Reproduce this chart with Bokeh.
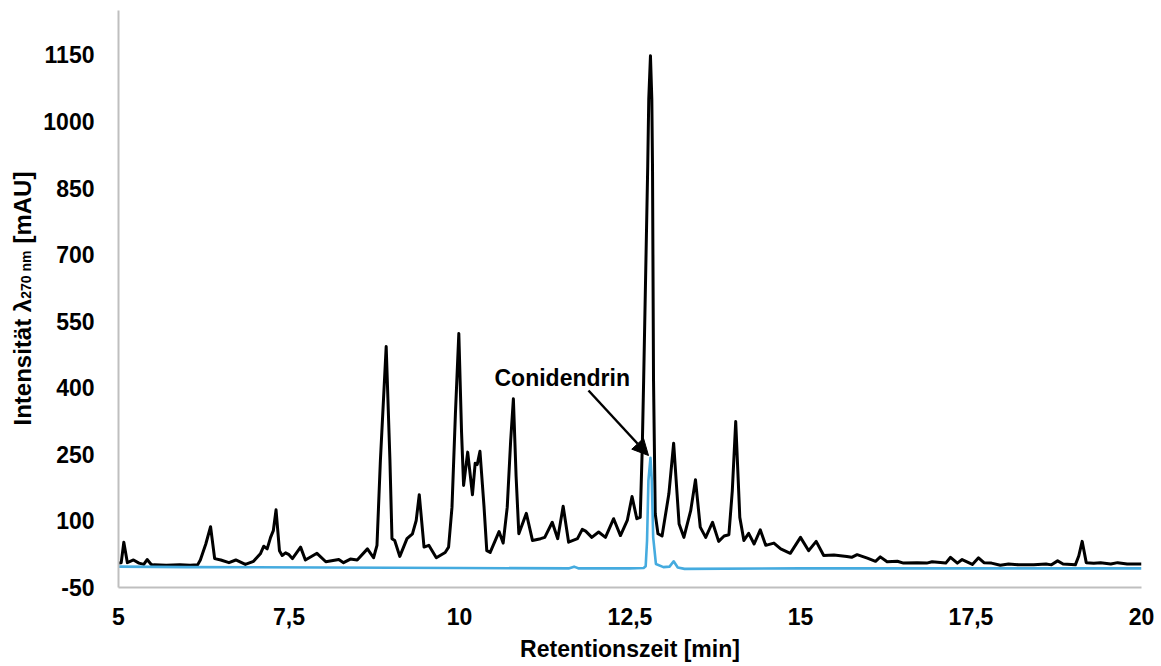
import math
from bokeh.plotting import figure
from bokeh.layouts import row
from bokeh.models import FixedTicker, Label, Arrow, NormalHead, Range1d
from bokeh.embed import file_html
from bokeh.resources import INLINE

# ---------------- data ----------------
black_t = [5.00, 5.04, 5.078, 5.13, 5.22, 5.30, 5.37, 5.42, 5.48, 5.52, 5.70, 5.90, 6.05, 6.16,
           6.20, 6.28, 6.35, 6.41, 6.50, 6.62, 6.72, 6.86, 6.98, 7.08, 7.13, 7.18, 7.23, 7.27,
           7.31, 7.36, 7.40, 7.45, 7.50, 7.55, 7.67, 7.74, 7.91, 8.04, 8.23, 8.30, 8.40, 8.50,
           8.65, 8.74, 8.79, 8.84, 8.925, 8.98, 9.01, 9.05, 9.125, 9.23, 9.31, 9.365, 9.41,
           9.48, 9.55, 9.66, 9.79, 9.84, 9.89, 9.94, 9.99, 10.03, 10.06, 10.12, 10.19, 10.23,
           10.26, 10.30, 10.36, 10.40, 10.45, 10.58, 10.64, 10.70, 10.75, 10.79, 10.83, 10.87,
           10.98, 11.07, 11.19, 11.25, 11.36, 11.44, 11.52, 11.60, 11.73, 11.80, 11.85, 11.94,
           12.04, 12.14, 12.26, 12.36, 12.46, 12.53, 12.60, 12.65, 12.68, 12.70, 12.76, 12.775,
           12.80, 12.82, 12.83, 12.845, 12.87, 12.91, 12.97, 13.07, 13.14, 13.22, 13.29, 13.39,
           13.46, 13.53, 13.61, 13.71, 13.80, 13.88, 13.95, 14.00, 14.05, 14.11, 14.17, 14.24,
           14.32, 14.41, 14.49, 14.61, 14.71, 14.85, 15.00, 15.12, 15.23, 15.34, 15.49, 15.68,
           15.75, 15.83, 15.98, 16.10, 16.17, 16.27, 16.42, 16.51, 16.71, 16.85, 16.93, 17.13,
           17.20, 17.30, 17.37, 17.52, 17.61, 17.69, 17.80, 17.93, 18.05, 18.20, 18.42, 18.60,
           18.68, 18.77, 18.85, 19.03, 19.08, 19.13, 19.19, 19.30, 19.40, 19.55, 19.65, 19.79,
           20.00]
black_v = [5, 6, 52, 6, 12, 5, 2, 13, 2, 1, 0, 1, 0, 1,
           12, 48, 87, 15, 12, 6, 12, 2, 9, 26, 43, 37, 63, 78,
           125, 33, 22, 28, 24, 15, 41, 12, 27, 8, 13, 6, 14, 12,
           37, 17, 45, 236, 493, 236, 60, 56, 20, 60, 71, 101, 159,
           41, 45, 17, 29, 41, 131, 341, 522, 300, 180, 255, 159, 230,
           227, 257, 131, 33, 29, 76, 50, 131, 280, 375, 200, 71,
           117, 56, 60, 63, 97, 60, 133, 52, 60, 81, 77, 63,
           75, 63, 105, 67, 101, 155, 105, 108, 266, 416, 900, 1050,
           1148, 1050, 900, 416, 116, 71, 66, 161, 275, 93, 63, 123,
           193, 86, 63, 97, 54, 66, 69, 168, 324, 108, 56, 72,
           48, 80, 45, 50, 37, 27, 63, 33, 54, 22, 23, 20,
           18, 24, 16, 9, 19, 8, 9, 5, 6, 5, 8, 5,
           18, 5, 13, 2, 17, 6, 5, 0, 3, 1, 1, 3,
           1, 10, 3, 1, 21, 54, 6, 4.5, 6, 3, 6, 3,
           3]

blue_t = [5.0, 6.0, 8.0, 10.0, 11.6, 11.68, 11.75, 12.5, 12.70, 12.73, 12.75, 12.77, 12.80,
          12.82, 12.84, 12.88, 12.99, 13.08, 13.14, 13.20, 13.30, 15.0, 20.0]
blue_v = [-3, -4, -5, -6, -7, -3, -7, -7, -6, -2, 56, 191, 242,
          191, 63, 3, -4, -3, 9, -5, -8, -7, -7]

x_ticks = [5, 7.5, 10, 12.5, 15, 17.5, 20]
x_tick_labels = ["5", "7,5", "10", "12,5", "15", "17,5", "20"]
y_ticks = [-50, 100, 250, 400, 550, 700, 850, 1000, 1150]
y_tick_labels = ["-50", "100", "250", "400", "550", "700", "850", "1000", "1150"]

annot_text = "Conidendrin"
x_title = "Retentionszeit [min]"
y_title_parts = ["Intensität λ", "270 nm", "[mAU]"]

# ---------------- layout ----------------
W, H = 1161, 666
LW = 38                     # width of the narrow panel that carries the y title
BL, BR, BT, BB = 118, 20, 10, 79
X0, X1 = 5, 20
Y0, Y1 = -50, 1250
FW, FH = W - BL - BR, H - BT - BB


def px2x(px):
    return X0 + (px - BL) * (X1 - X0) / FW


def px2y(py):
    return Y0 + (H - BB - py) * (Y1 - Y0) / FH


FONT = "Liberation Sans"

# --- narrow panel with the rotated y-axis title (incl. subscript) ---
lp = figure(frame_width=LW, frame_height=H, output_backend="svg", toolbar_location=None,
            x_range=Range1d(0, LW), y_range=Range1d(0, H),
            x_axis_type=None, y_axis_type=None, min_border=0,
            min_border_left=0, min_border_right=0, min_border_top=0, min_border_bottom=0)
lp.outline_line_color = None
lp.xgrid.visible = False
lp.ygrid.visible = False
lp.background_fill_color = "white"
lp.border_fill_color = "white"

main_size, sub_size = 24, 14
w_main = 5.279 * main_size
w_sub = 3.446 * sub_size
gap = 7
start = 415
ys = [start, start - w_main, start - w_main - w_sub - gap]
xs = [22, 25, 22]
sizes = [main_size, sub_size, main_size]
for txt, sx, sy, sz in zip(y_title_parts, xs, ys, sizes):
    lp.add_layout(Label(x=sx, y=H - sy, x_units="screen", y_units="screen",
                        text=txt, angle=math.pi / 2,
                        text_align="left", text_baseline="alphabetic",
                        text_font=FONT, text_font_style="bold",
                        text_font_size=f"{sz}px", text_color="black"))

# --- main chart ---
p = figure(width=W - LW, height=H, output_backend="svg", toolbar_location=None,
           x_range=Range1d(X0, X1), y_range=Range1d(Y0, Y1),
           min_border_left=BL - LW, min_border_right=BR, min_border_top=BT, min_border_bottom=BB)
p.outline_line_color = None
p.xgrid.visible = False
p.ygrid.visible = False
p.background_fill_color = "white"
p.border_fill_color = "white"

p.line(black_t, black_v, line_color="black", line_width=3, line_join="round")
p.line(blue_t, blue_v, line_color="#45ABDF", line_width=2.6, line_join="round")

for ax in (p.xaxis[0], p.yaxis[0]):
    ax.axis_line_color = "#BFBFBF"
    ax.axis_line_width = 2
    ax.major_tick_line_color = None
    ax.minor_tick_line_color = None
    ax.major_tick_in = 0
    ax.major_tick_out = 0
    ax.minor_tick_in = 0
    ax.minor_tick_out = 0
    ax.major_label_text_font = FONT
    ax.major_label_text_font_style = "bold"
    ax.major_label_text_font_size = "23px"
    ax.major_label_text_color = "black"

p.xaxis.ticker = FixedTicker(ticks=x_ticks)
p.xaxis.major_label_overrides = {t: s for t, s in zip(x_ticks, x_tick_labels)}
p.yaxis.ticker = FixedTicker(ticks=y_ticks)
p.yaxis.major_label_overrides = {t: s for t, s in zip(y_ticks, y_tick_labels)}
p.xaxis.major_label_standoff = 20
p.yaxis.major_label_standoff = 24
p.yaxis.axis_label_standoff = 0

p.xaxis.axis_label = x_title
p.xaxis.axis_label_text_font = FONT
p.xaxis.axis_label_text_font_style = "bold"
p.xaxis.axis_label_text_font_size = "23px"
p.xaxis.axis_label_text_color = "black"
p.xaxis.axis_label_standoff = 8

# annotation
p.add_layout(Label(x=px2x(494), y=px2y(377), text=annot_text, text_align="left",
                   text_baseline="alphabetic", text_font=FONT, text_font_style="bold",
                   text_font_size="23px", text_color="black"))
p.add_layout(Arrow(x_start=px2x(588), y_start=px2y(390), x_end=px2x(648), y_end=px2y(455),
                   line_color="black", line_width=2.5,
                   end=NormalHead(size=16, fill_color="black", line_color="black")))

layout = row(lp, p, spacing=0)
open("out.html", "w").write(file_html(layout, INLINE))
